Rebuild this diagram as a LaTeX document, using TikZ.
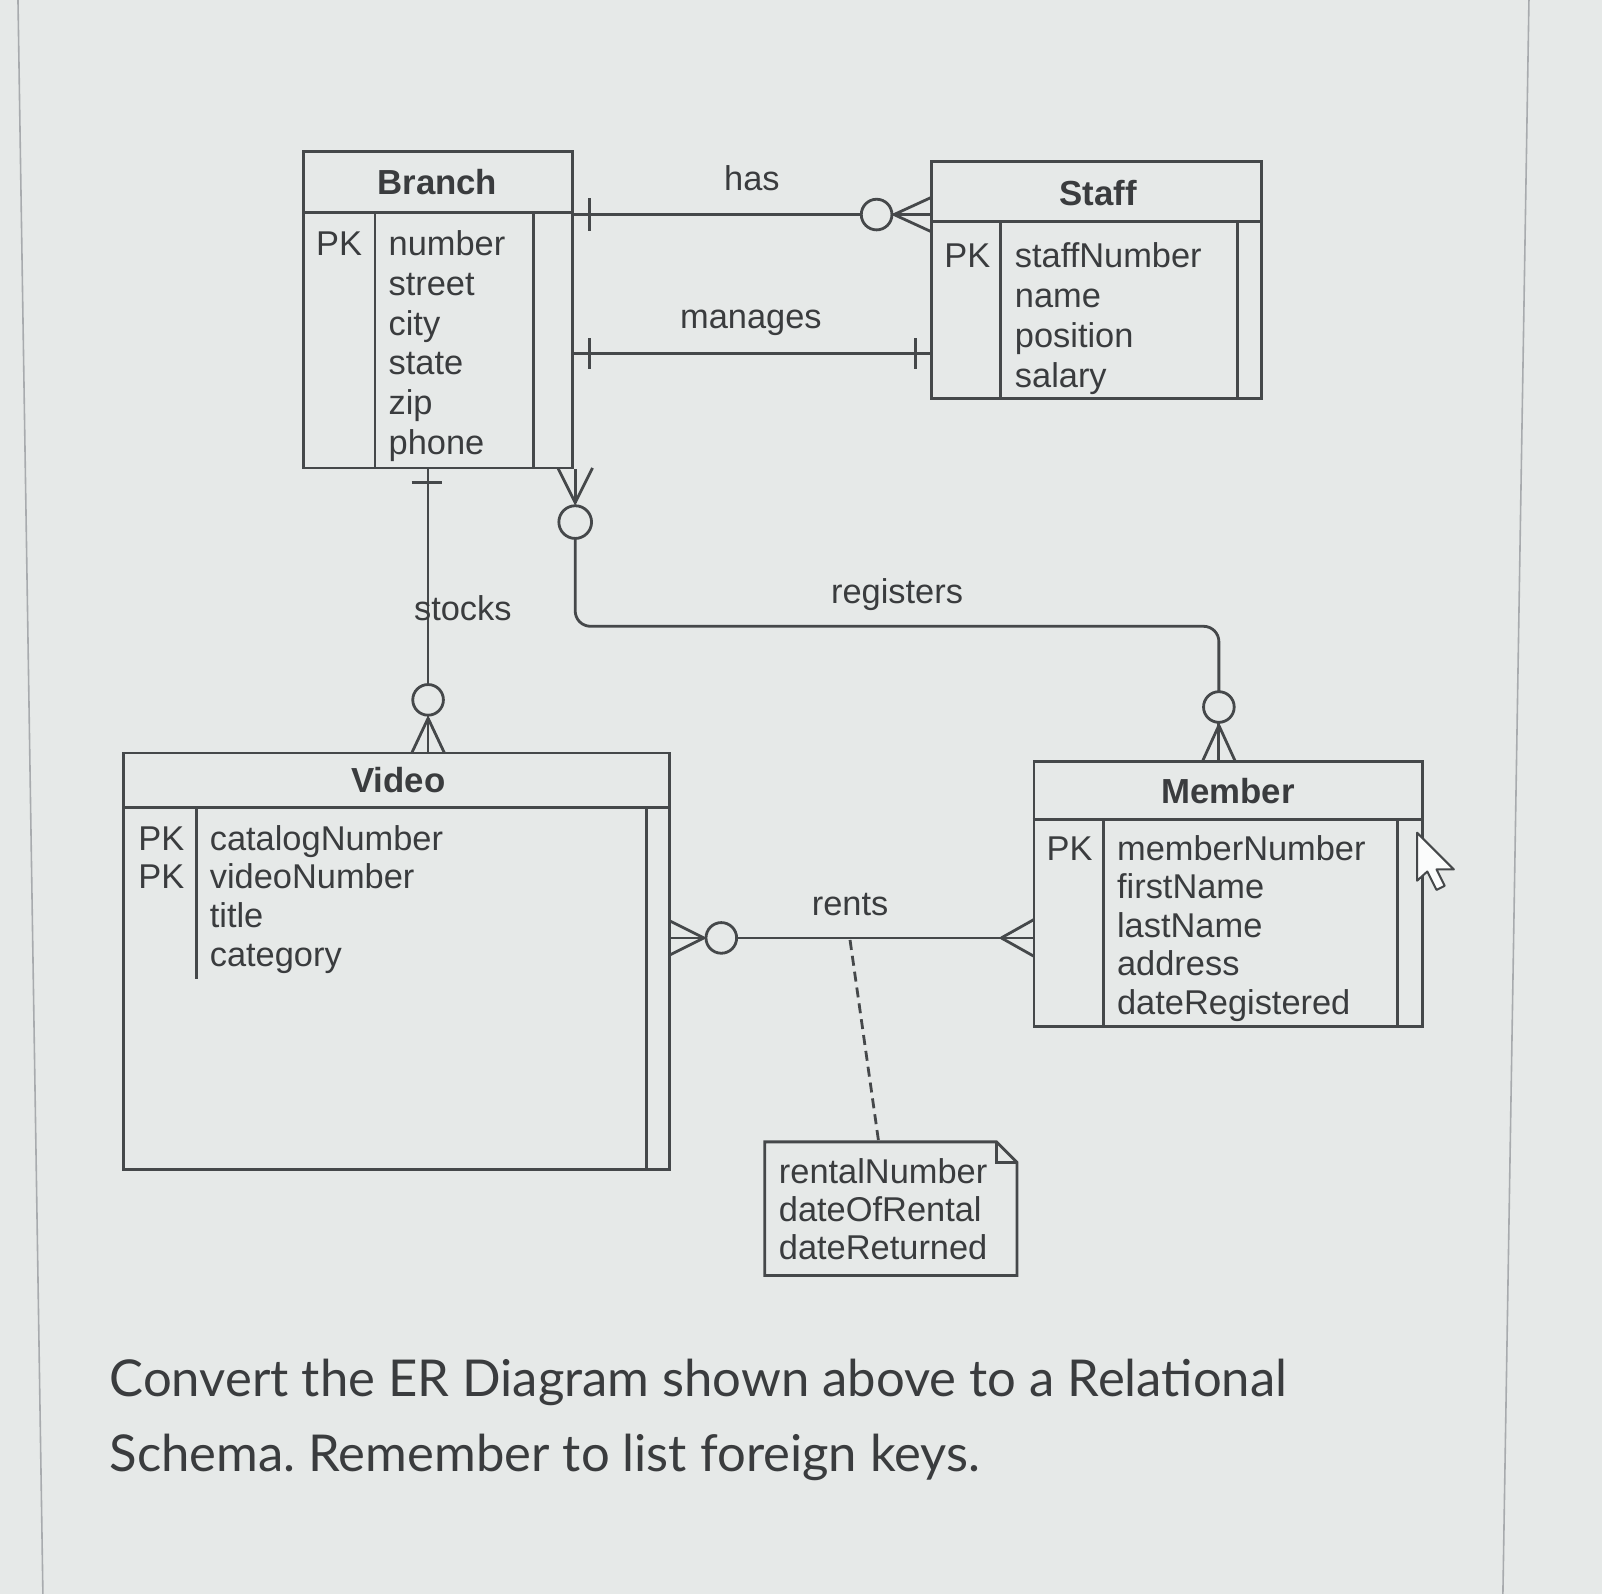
\documentclass[tikz,border=0pt]{standalone}
\usepackage{fontspec}
\setmainfont{Liberation Sans}
\newfontfamily\latofont{Lato}
\usetikzlibrary{fit}
\definecolor{bg}{HTML}{E6E9E8}
\definecolor{ln}{HTML}{45484A}
\definecolor{tx}{HTML}{3A3C3E}
\definecolor{frame}{HTML}{A8ABAE}
\frenchspacing
\begin{document}
\begin{tikzpicture}[x=0.51085pt,y=-0.51085pt,
  er/.style={draw=ln,line width=1.4pt,inner sep=0pt},
  conn/.style={draw=ln,line width=1.4pt},
  thin/.style={draw=ln,line width=1.4pt},
  lbl/.style={text=tx,font=\fontsize{17.2}{20}\selectfont,inner sep=0pt,anchor=base},
  attr/.style={lbl,anchor=base west},
  ttl/.style={lbl,font=\fontsize{17.4}{20}\selectfont\bfseries},
  quest/.style={text=tx,font=\latofont\fontsize{25.4}{28}\selectfont,inner sep=0pt,anchor=base west}
]
\useasboundingbox (0,0) rectangle (1568,1560);
\fill[bg] (0,0) rectangle (1568,1560);
\draw[frame,line width=0.8pt] (17.6,0) -- (42,1560);
\draw[frame,line width=0.8pt] (1496.5,0) -- (1471,1560);

% ---------- entities ----------
\node[er,fit={(297,148) (560,458)}] (branch) {};
\draw[thin] (branch.west |- 0,208) -- (branch.east |- 0,208);
\draw[thin] (367,208) -- (367,0 |- branch.south);
\draw[thin] (522,208) -- (522,0 |- branch.south);
\node[ttl] (brT) at (428,190) {Branch};
\node[attr] (brPK) at (309,250) {PK};
\foreach \nm [count=\i] in {number,street,city,state,zip,phone}
  \node[attr] (brA\i) at (380,{250+39*(\i-1)}) {\nm};

\node[er,fit={(912,158) (1235,390)}] (staff) {};
\draw[thin] (staff.west |- 0,217) -- (staff.east |- 0,217);
\draw[thin] (979,217) -- (979,0 |- staff.south);
\draw[thin] (1211,217) -- (1211,0 |- staff.south);
\node[ttl] (stT) at (1075,201) {Staff};
\node[attr] (stPK) at (924,262) {PK};
\foreach \nm [count=\i] in {staffNumber,name,position,salary}
  \node[attr] (stA\i) at (993,{262+39*(\i-1)}) {\nm};

\node[er,fit={(121,737) (655,1145)}] (video) {};
\draw[thin] (video.west |- 0,790) -- (video.east |- 0,790);
\draw[thin] (192,790) -- (192,958);
\draw[thin] (633,790) -- (633,0 |- video.south);
\node[ttl] (viT) at (390,776) {Video};
\node[attr] (viPK1) at (135,832) {PK};
\node[attr] (viPK2) at (135,870) {PK};
\foreach \nm [count=\i] in {catalogNumber,videoNumber,title,category}
  \node[attr] (viA\i) at (205,{832+38*(\i-1)}) {\nm};

\node[er,fit={(1012,745) (1392,1005)}] (member) {};
\draw[thin] (member.west |- 0,802) -- (member.east |- 0,802);
\draw[thin] (1080,802) -- (1080,0 |- member.south);
\draw[thin] (1368,802) -- (1368,0 |- member.south);
\node[ttl] (meT) at (1202,786) {Member};
\node[attr] (mePK) at (1024,842) {PK};
\foreach \nm [count=\i] in {memberNumber,firstName,lastName,address,dateRegistered}
  \node[attr] (meA\i) at (1093,{842+37.7*(\i-1)}) {\nm};

% ---------- note ----------
\node[inner sep=0pt,fit={(749,1118) (995,1248)}] (note) {};
\draw[thin] (note.north west) -- ([xshift=-20*0.51085pt]note.north east)
  -- ([yshift=-20*0.51085pt]note.north east) -- (note.south east)
  -- (note.south west) -- cycle;
\draw[thin] ([xshift=-20*0.51085pt]note.north east) -- ++(0,20) -- ([yshift=-20*0.51085pt]note.north east);
\node[attr] (noA1) at (762,1158) {rentalNumber};
\node[attr] (noA2) at (762,1196) {dateOfRental};
\node[attr] (noA3) at (762,1233) {dateReturned};

% ---------- has ----------
\coordinate (hasA) at (branch.east |- 0,210);
\coordinate (hasB) at (staff.west |- 0,210);
\draw[conn] (hasA) -- (843,210);
\draw[conn] (858,210) circle[radius=15];
\draw[conn] (873,210) -- (hasB);
\draw[conn] (875,210) -- (912,193);
\draw[conn] (875,210) -- (912,227);
\draw[conn] (577,194) -- (577,226);
\node[lbl] (hasL) at (736,186) {has};

% ---------- manages ----------
\coordinate (manA) at (branch.east |- 0,346);
\coordinate (manB) at (staff.west |- 0,346);
\draw[conn] (manA) -- (manB);
\draw[conn] (577,331) -- (577,361);
\draw[conn] (896,331) -- (896,361);
\node[lbl] (manL) at (735,322) {manages};

% ---------- stocks ----------
\coordinate (stoA) at (419,0 |- branch.south);
\coordinate (stoB) at (419,0 |- video.north);
\draw[conn] (stoA) -- (419,670);
\draw[conn] (403,472) -- (433,472);
\draw[conn] (419,685) circle[radius=15];
\draw[conn] (419,701) -- (stoB);
\draw[conn] (419,703) -- (403,737);
\draw[conn] (419,703) -- (435,737);
\node[lbl] (stoL) at (453,607) {stocks};

% ---------- registers ----------
\coordinate (regA) at (563,0 |- branch.south);
\coordinate (regB) at (1193,0 |- member.north);
\draw[conn] (regA) -- (563,492);
\draw[conn] (546,458) -- (563,492) -- (580,458);
\draw[conn] (563,511) circle[radius=16];
\draw[conn,rounded corners=15*0.51085pt] (563,527) -- (563,613) -- (1193,613) -- (1193,677);
\draw[conn] (1193,692) circle[radius=15];
\draw[conn] (1193,707) -- (regB);
\draw[conn] (1193,710) -- (1177,745);
\draw[conn] (1193,710) -- (1209,745);
\node[lbl] (regL) at (878,591) {registers};

% ---------- rents ----------
\coordinate (renA) at (video.east |- 0,918);
\coordinate (renB) at (member.west |- 0,918);
\draw[conn] (renA) -- (691,918);
\draw[conn] (689,918) -- (655,901);
\draw[conn] (689,918) -- (655,935);
\draw[conn] (706,918) circle[radius=15];
\draw[conn] (721,918) -- (renB);
\draw[conn] (980,918) -- (1012,900);
\draw[conn] (980,918) -- (1012,936);
\node[lbl] (renL) at (832,896) {rents};
\coordinate (renM) at (832,920);
\draw[ln,line width=1.4pt,dash pattern=on 5pt off 3pt] (renM) -- (note.north -| 860,0);

% ---------- cursor ----------
\filldraw[fill=white!85!bg,draw=ln,line width=1pt,line join=round]
  (1387,815) -- (1387,862) -- (1397,853) -- (1406,871) -- (1414,867)
  -- (1406,851) -- (1423,851) -- cycle;

% ---------- question ----------
\node[quest] (q1) at (107,1367) {Convert the ER Diagram shown above to a Relational};
\node[quest] (q2) at (107,1440) {Schema. Remember to list foreign keys.};
\end{tikzpicture}
\end{document}
